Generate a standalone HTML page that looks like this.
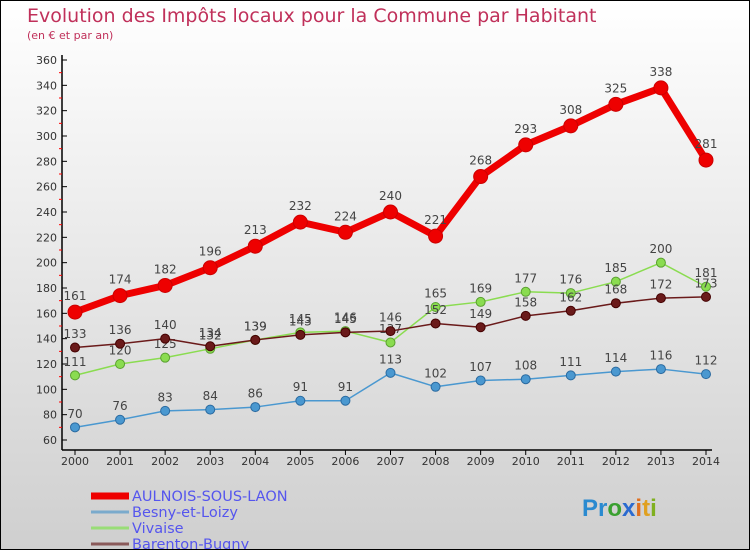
<!DOCTYPE html>
<html><head><meta charset="utf-8"><style>
body{margin:0}
#c{width:750px;height:550px;position:relative;box-sizing:border-box;border:1px solid #000;background:linear-gradient(#ffffff,#cfcfcf);overflow:hidden;font-family:"DejaVu Sans","Liberation Sans",sans-serif}
</style></head><body>
<div id="c">
<svg id="s" width="750" height="550" style="position:absolute;left:-1px;top:-1px">
<text x="27" y="22" font-size="19" fill="#c0305a">Evolution des Impôts locaux pour la Commune par Habitant</text>
<text x="27" y="39" font-size="11" fill="#c0305a">(en € et par an)</text>
</svg>
</div>
<script>
const years=[2000,2001,2002,2003,2004,2005,2006,2007,2008,2009,2010,2011,2012,2013,2014];
const aulnois=[161,174,182,196,213,232,224,240,221,268,293,308,325,338,281];
const besny=[70,76,83,84,86,91,91,113,102,107,108,111,114,116,112];
const vivaise=[111,120,125,132,139,145,146,137,165,169,177,176,185,200,181];
const barenton=[133,136,140,134,139,143,145,146,152,149,158,162,168,172,173];
const yTicks=[60,80,100,120,140,160,180,200,220,240,260,280,300,320,340,360];
const NS='http://www.w3.org/2000/svg';
const s=document.getElementById('s');
const X=i=>75+i*(706-75)/(years.length-1);
const Y=v=>440-(v-60)*380/300;
function el(t,a,p){const e=document.createElementNS(NS,t);for(const k in a)e.setAttribute(k,a[k]);(p||s).appendChild(e);return e;}
let ax=el('line',{x1:62,y1:55,x2:62,y2:450,stroke:'#000','stroke-width':1.5});


ax=el('line',{x1:62,y1:450,x2:712,y2:450,stroke:'#000','stroke-width':1.5});


yTicks.forEach((v,i)=>{
 el('line',{x1:62,y1:Y(v),x2:67,y2:Y(v),stroke:'#000'});
 if(i<yTicks.length-1) el('line',{x1:59,y1:Y(v+10),x2:62,y2:Y(v+10),stroke:'#f00'});
 const t=el('text',{x:57,y:Y(v)+4,'font-size':11,'text-anchor':'end',fill:'#333'});
 t.textContent=v;
 
 
});
years.forEach((y,i)=>{
 el('line',{x1:X(i),y1:450,x2:X(i),y2:455,stroke:'#000'});
 const t=el('text',{x:X(i),y:465,'font-size':11,'text-anchor':'middle',fill:'#333'});
 t.textContent=y;
 
 
});
function series(data,color,w,r,name,dark){
 const g=el('g',{});
 
 
 el('polyline',{points:data.map((v,i)=>X(i)+','+Y(v)).join(' '),fill:'none',stroke:color,'stroke-width':w,'stroke-linejoin':'round'},g);
 data.forEach((v,i)=>{
  const c=el('circle',{cx:X(i),cy:Y(v),r:r,fill:color,stroke:dark,'stroke-width':1},g);
  
  
  const t=el('text',{x:X(i),y:Y(v)-r-5,'font-size':12,'text-anchor':'middle',fill:'#444'},g);
  t.textContent=v;
  
  
 });
}
series(besny,'#4a98d0',1.5,4.5,'besny','#2a6aa0');
series(vivaise,'#8adc50',1.5,4.5,'vivaise','#5aa030');
series(barenton,'#6a1a1a',1.5,4.5,'barenton','#400');
series(aulnois,'#ee0000',7,7,'aulnois','#c00');
const leg=[['AULNOIS-SOUS-LAON','#ee0000',7],['Besny-et-Loizy','#7aaacc',3],['Vivaise','#99dd77',3],['Barenton-Bugny','#8a5a5a',3]];
leg.forEach((l,i)=>{
 const y=494+i*16;
 const g=el('g',{});
 
 
 el('line',{x1:91,y1:y+2,x2:129,y2:y+2,stroke:l[1],'stroke-width':l[2]},g);
 const t=el('text',{x:132,y:y+7,'font-size':14.5,fill:'#5555ee'},g);
 t.textContent=l[0];
});
const lg=el('text',{x:582,y:516,'font-size':24,'font-weight':'bold','font-family':'Liberation Sans, sans-serif'});


[['Pr','#2a8ad0'],['o','#3aa030'],['x','#2a6ad0'],['i','#e07020'],['t','#e0a020'],['i','#80b020']].forEach(p=>{const ts=el('tspan',{fill:p[1]},lg);ts.textContent=p[0];});
</script>
</body></html>
